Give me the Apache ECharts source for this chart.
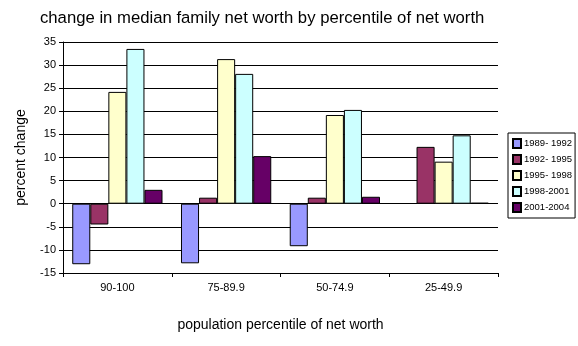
<!DOCTYPE html>
<html>
<head>
<meta charset="utf-8">
<script src="https://cdn.jsdelivr.net/npm/echarts@6/dist/echarts.min.js"></script>
<style>
  html, body { margin: 0; padding: 0; background: #fff; }
  #chart { width: 578px; height: 346px; }
</style>
</head>
<body>
<div id="chart"></div>
<script>
// Percentile groups along the x axis
const categories = ['90-100', '75-89.9', '50-74.9', '25-49.9'];

// Percent change in median net worth for each period (null = no value reported)
const p1989_1992 = [-13.1, -12.9, -9.2, null];
const p1992_1995 = [-4.5, 1.3, 1.3, 12.3];
const p1995_1998 = [24.2, 31.3, 19.2, 9.1];
const p1998_2001 = [33.5, 28.1, 20.3, 14.8];
const p2001_2004 = [3.0, 10.3, 1.5, 0.2];

const seriesNames = ['1989- 1992', '1992- 1995', '1995- 1998', '1998-2001', '2001-2004'];
const seriesValues = [p1989_1992, p1992_1995, p1995_1998, p1998_2001, p2001_2004];
const seriesColors = ['#9999FF', '#993366', '#FFFFCC', '#CCFFFF', '#660066'];

const font = 'Liberation Sans, Arial, sans-serif';

const chart = echarts.init(document.getElementById('chart'), null, { renderer: 'canvas' });

chart.setOption({
  animation: false,
  backgroundColor: '#ffffff',
  title: {
    text: 'change in median family net worth by percentile of net worth',
    left: 35,
    top: 5,
    textStyle: { fontFamily: font, fontSize: 16.7, fontWeight: 'normal', color: '#000' }
  },
  legend: {
    orient: 'vertical',
    left: 508,
    top: 133,
    padding: [5, 3, 5, 4],
    itemGap: 5,
    itemWidth: 8,
    itemHeight: 9,
    borderColor: '#000',
    borderWidth: 1,
    icon: 'rect',
    textStyle: { fontFamily: font, fontSize: 9.5, color: '#000', padding: [0, 0, 0, -2] },
    data: seriesNames
  },
  grid: { left: 63, top: 42, width: 435, height: 231, containLabel: false },
  xAxis: {
    type: 'category',
    data: categories,
    name: 'population percentile of net worth',
    nameLocation: 'middle',
    nameGap: 45,
    nameTextStyle: { fontFamily: font, fontSize: 14, color: '#000' },
    axisLine: { onZero: false, lineStyle: { color: '#000', width: 1 } },
    axisTick: { show: true, length: 4, lineStyle: { color: '#000' } },
    axisLabel: { fontFamily: font, fontSize: 11, color: '#000', margin: 9 },
    splitLine: { show: false }
  },
  yAxis: {
    type: 'value',
    min: -15,
    max: 35,
    interval: 5,
    name: 'percent change',
    nameLocation: 'middle',
    nameGap: 35,
    nameTextStyle: { fontFamily: font, fontSize: 14, color: '#000' },
    axisLine: { show: true, lineStyle: { color: '#000', width: 1 } },
    axisTick: { show: true, length: 4, lineStyle: { color: '#000' } },
    axisLabel: { fontFamily: font, fontSize: 11, color: '#000', margin: 7 },
    splitLine: { show: true, lineStyle: { color: '#000', width: 1 } }
  },
  series: seriesNames.map((name, i) => ({
    name: name,
    type: 'bar',
    data: seriesValues[i],
    barGap: '0%',
    barCategoryGap: '17%',
    itemStyle: { color: seriesColors[i], borderColor: '#000', borderWidth: 1 }
  }))
});
</script>
</body>
</html>
